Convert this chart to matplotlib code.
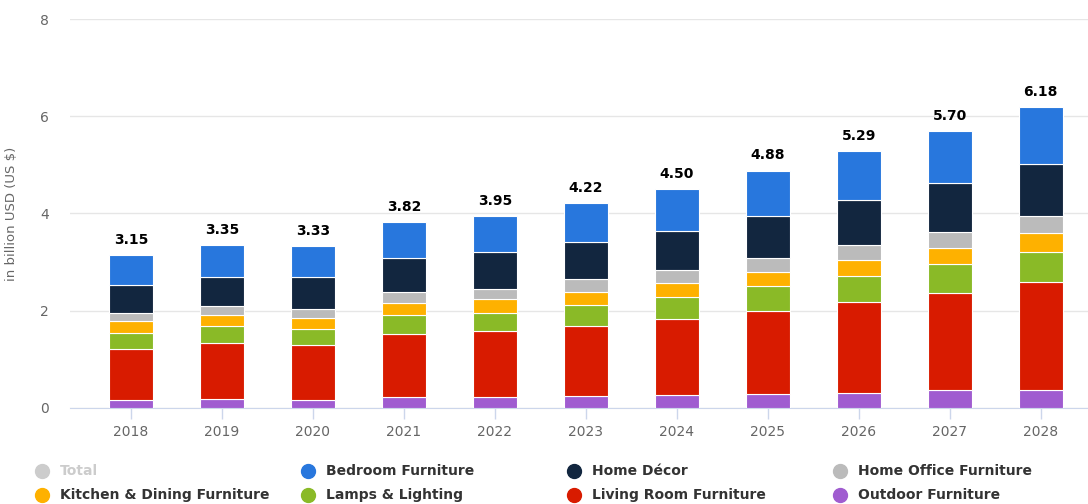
import numpy as np
import matplotlib
matplotlib.use("Agg")
import matplotlib.pyplot as plt
from matplotlib.lines import Line2D

years = ["2018", "2019", "2020", "2021", "2022", "2023", "2024", "2025", "2026", "2027", "2028"]
totals = [3.15, 3.35, 3.33, 3.82, 3.95, 4.22, 4.50, 4.88, 5.29, 5.70, 6.18]

outdoor = [0.17, 0.19, 0.17, 0.22, 0.22, 0.25, 0.27, 0.28, 0.31, 0.36, 0.38]
living_room = [1.05, 1.14, 1.13, 1.30, 1.36, 1.44, 1.56, 1.71, 1.87, 2.01, 2.21]
lamps = [0.33, 0.36, 0.33, 0.39, 0.38, 0.43, 0.46, 0.51, 0.54, 0.60, 0.62]
kitchen = [0.24, 0.22, 0.22, 0.24, 0.28, 0.27, 0.29, 0.30, 0.33, 0.32, 0.38]
home_office = [0.17, 0.19, 0.19, 0.24, 0.21, 0.26, 0.26, 0.28, 0.30, 0.33, 0.36]
home_decor = [0.57, 0.60, 0.66, 0.69, 0.75, 0.76, 0.81, 0.87, 0.93, 1.00, 1.06]
bedroom = [0.62, 0.65, 0.63, 0.74, 0.75, 0.81, 0.85, 0.93, 1.01, 1.08, 1.17]

# stacked bottom to top
stack = [
    ("Outdoor Furniture", outdoor, "#a05cd0"),
    ("Living Room Furniture", living_room, "#d81b00"),
    ("Lamps & Lighting", lamps, "#8aba27"),
    ("Kitchen & Dining Furniture", kitchen, "#feb100"),
    ("Home Office Furniture", home_office, "#bbbbbb"),
    ("Home Décor", home_decor, "#12263f"),
    ("Bedroom Furniture", bedroom, "#2877dd"),
]

fig = plt.figure(figsize=(10.88, 5.04), dpi=100)
ax = fig.add_axes([0.0643, 0.1905, 0.9357, 0.7718])

x = np.arange(len(years))
bottom = np.zeros(len(years))
for name, vals, col in stack:
    ax.bar(x, vals, width=0.48, bottom=bottom, color=col, edgecolor="white", linewidth=0.8, zorder=3)
    bottom += np.array(vals)

for xi, t in zip(x, totals):
    ax.text(xi, t + 0.17, f"{t:.2f}", ha="center", va="bottom", fontsize=10,
            fontweight="bold", color="#000000")

ax.set_ylim(0, 8)
ax.set_xlim(-0.67, 10.52)
ax.set_yticks([0, 2, 4, 6, 8])
ax.set_xticks(x)
ax.set_xticklabels(years)
ax.tick_params(axis="y", length=0, labelsize=10, labelcolor="#666666", pad=15)
ax.tick_params(axis="x", length=8, width=1, color="#ccd6eb", labelsize=10, labelcolor="#666666", pad=4)
ax.grid(axis="y", color="#e6e6e6", linewidth=1, zorder=0)
for s in ["top", "right", "left"]:
    ax.spines[s].set_visible(False)
ax.spines["bottom"].set_color("#ccd6eb")
ax.set_ylabel("in billion USD (US $)", fontsize=9.5, color="#666666", labelpad=4)
ax.yaxis.set_label_coords(-0.051, 0.5)

# legend, row-wise as in the reference
legend_rows = [
    [("Total", "#cccccc", "#cccccc"), ("Bedroom Furniture", "#2877dd", "#333333"),
     ("Home Décor", "#12263f", "#333333"), ("Home Office Furniture", "#bbbbbb", "#333333")],
    [("Kitchen & Dining Furniture", "#feb100", "#333333"), ("Lamps & Lighting", "#8aba27", "#333333"),
     ("Living Room Furniture", "#d81b00", "#333333"), ("Outdoor Furniture", "#a05cd0", "#333333")],
]
col_x = [42, 308, 574, 840]
row_y = [471, 495]
for r, row in enumerate(legend_rows):
    for c, (label, mcol, tcol) in enumerate(row):
        fx = col_x[c] / 1088
        fy = 1 - row_y[r] / 504
        fig.add_artist(Line2D([fx], [fy], marker="o", markersize=10, color=mcol,
                              linestyle="none", transform=fig.transFigure))
        fig.text(fx + 18 / 1088, fy, label, fontsize=10, fontweight="bold",
                 color=tcol, va="center", ha="left")

fig.savefig("out.png", dpi=100)
